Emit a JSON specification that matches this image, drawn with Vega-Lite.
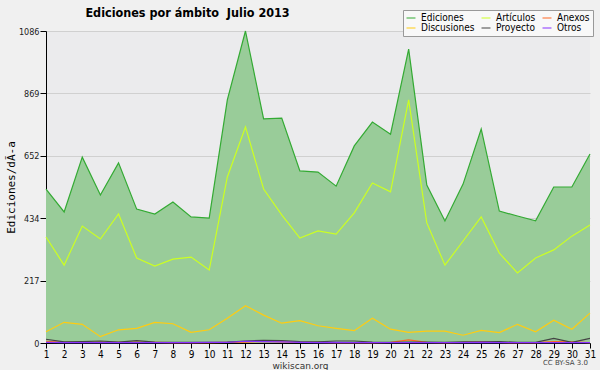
{
  "$schema": "https://vega.github.io/schema/vega-lite/v6.json",
  "autosize": "none",
  "width": 544,
  "height": 312,
  "padding": {"left": 46, "top": 31, "right": 10, "bottom": 27},
  "background": "#f0f0f0",
  "config": {
    "font": "DejaVu Sans",
    "view": {"fill": "#ebebed", "stroke": null}
  },
  "title": {
    "text": "Ediciones por ámbito\u00a0\u00a0Julio 2013",
    "anchor": "start",
    "dx": 80,
    "offset": -10,
    "fontSize": 12.5,
    "fontWeight": "bold",
    "color": "#000000",
    "font": "DejaVu Sans Condensed"
  },
  "data": {
    "values": [
      {"d": 1, "Ediciones": 536, "Artículos": 369, "Anexos": 6, "Discusiones": 39, "Proyecto": 13, "Otros": 2},
      {"d": 2, "Ediciones": 456, "Artículos": 271, "Anexos": 2, "Discusiones": 72, "Proyecto": 4, "Otros": 1},
      {"d": 3, "Ediciones": 647, "Artículos": 407, "Anexos": 2, "Discusiones": 65, "Proyecto": 5, "Otros": 1},
      {"d": 4, "Ediciones": 515, "Artículos": 362, "Anexos": 3, "Discusiones": 22, "Proyecto": 7, "Otros": 1},
      {"d": 5, "Ediciones": 627, "Artículos": 449, "Anexos": 2, "Discusiones": 46, "Proyecto": 3, "Otros": 1},
      {"d": 6, "Ediciones": 466, "Artículos": 296, "Anexos": 3, "Discusiones": 51, "Proyecto": 8, "Otros": 1},
      {"d": 7, "Ediciones": 449, "Artículos": 268, "Anexos": 2, "Discusiones": 72, "Proyecto": 3, "Otros": 1},
      {"d": 8, "Ediciones": 491, "Artículos": 292, "Anexos": 1, "Discusiones": 67, "Proyecto": 2, "Otros": 1},
      {"d": 9, "Ediciones": 439, "Artículos": 299, "Anexos": 1, "Discusiones": 37, "Proyecto": 2, "Otros": 1},
      {"d": 10, "Ediciones": 435, "Artículos": 254, "Anexos": 1, "Discusiones": 46, "Proyecto": 2, "Otros": 2},
      {"d": 11, "Ediciones": 846, "Artículos": 578, "Anexos": 2, "Discusiones": 86, "Proyecto": 3, "Otros": 2},
      {"d": 12, "Ediciones": 1086, "Artículos": 752, "Anexos": 3, "Discusiones": 130, "Proyecto": 7, "Otros": 6},
      {"d": 13, "Ediciones": 780, "Artículos": 536, "Anexos": 6, "Discusiones": 97, "Proyecto": 9, "Otros": 5},
      {"d": 14, "Ediciones": 783, "Artículos": 446, "Anexos": 4, "Discusiones": 69, "Proyecto": 8, "Otros": 4},
      {"d": 15, "Ediciones": 599, "Artículos": 365, "Anexos": 2, "Discusiones": 78, "Proyecto": 5, "Otros": 2},
      {"d": 16, "Ediciones": 595, "Artículos": 390, "Anexos": 2, "Discusiones": 60, "Proyecto": 4, "Otros": 1},
      {"d": 17, "Ediciones": 546, "Artículos": 379, "Anexos": 1, "Discusiones": 51, "Proyecto": 7, "Otros": 2},
      {"d": 18, "Ediciones": 686, "Artículos": 453, "Anexos": 1, "Discusiones": 43, "Proyecto": 7, "Otros": 1},
      {"d": 19, "Ediciones": 769, "Artículos": 557, "Anexos": 1, "Discusiones": 86, "Proyecto": 3, "Otros": 1},
      {"d": 20, "Ediciones": 727, "Artículos": 526, "Anexos": 2, "Discusiones": 48, "Proyecto": 2, "Otros": 1},
      {"d": 21, "Ediciones": 1023, "Artículos": 846, "Anexos": 11, "Discusiones": 37, "Proyecto": 3, "Otros": 1},
      {"d": 22, "Ediciones": 550, "Artículos": 418, "Anexos": 2, "Discusiones": 41, "Proyecto": 3, "Otros": 1},
      {"d": 23, "Ediciones": 425, "Artículos": 271, "Anexos": 1, "Discusiones": 41, "Proyecto": 2, "Otros": 1},
      {"d": 24, "Ediciones": 553, "Artículos": 355, "Anexos": 2, "Discusiones": 27, "Proyecto": 4, "Otros": 1},
      {"d": 25, "Ediciones": 745, "Artículos": 439, "Anexos": 5, "Discusiones": 44, "Proyecto": 4, "Otros": 2},
      {"d": 26, "Ediciones": 459, "Artículos": 313, "Anexos": 2, "Discusiones": 36, "Proyecto": 5, "Otros": 1},
      {"d": 27, "Ediciones": 442, "Artículos": 244, "Anexos": 1, "Discusiones": 65, "Proyecto": 2, "Otros": 1},
      {"d": 28, "Ediciones": 425, "Artículos": 296, "Anexos": 1, "Discusiones": 39, "Proyecto": 2, "Otros": 1},
      {"d": 29, "Ediciones": 543, "Artículos": 324, "Anexos": 5, "Discusiones": 79, "Proyecto": 16, "Otros": 1},
      {"d": 30, "Ediciones": 543, "Artículos": 372, "Anexos": 4, "Discusiones": 48, "Proyecto": 2, "Otros": 1},
      {"d": 31, "Ediciones": 658, "Artículos": 411, "Anexos": 1, "Discusiones": 104, "Proyecto": 16, "Otros": 1}
    ]
  },
  "transform": [
    {"fold": ["Ediciones", "Artículos", "Anexos", "Discusiones", "Proyecto", "Otros"], "as": ["serie", "valor"]}
  ],
  "encoding": {
    "x": {
      "field": "d",
      "type": "quantitative",
      "scale": {"domain": [1, 31], "nice": false, "zero": false},
      "axis": {
        "values": [1,2,3,4,5,6,7,8,9,10,11,12,13,14,15,16,17,18,19,20,21,22,23,24,25,26,27,28,29,30,31],
        "format": "d",
        "grid": false,
        "domainColor": "#000000",
        "tickColor": "#000000",
        "tickSize": 5,
        "labelFont": "DejaVu Sans Condensed",
        "labelFontSize": 10,
        "labelColor": "#000000",
        "labelPadding": 1,
        "labelFlush": false,
        "title": "wikiscan.org",
        "titleFontSize": 9,
        "titleFontWeight": "normal",
        "titleColor": "#333333",
        "titlePadding": 2,
        "titleX": 254
      }
    },
    "y": {
      "field": "valor",
      "type": "quantitative",
      "scale": {"domain": [0, 1086], "nice": false},
      "axis": {
        "values": [0, 217, 434, 652, 869, 1086],
        "format": "d",
        "grid": true,
        "gridColor": "#d0d0d0",
        "domainColor": "#000000",
        "tickColor": "#000000",
        "tickSize": 6,
        "labelFont": "DejaVu Sans Condensed",
        "labelFontSize": 9,
        "labelColor": "#222222",
        "labelPadding": 1,
        "title": "Ediciones/dÃ-a",
        "titleFont": "DejaVu Sans Mono",
        "titleFontSize": 11,
        "titleFontWeight": "normal",
        "titleColor": "#000000",
        "titlePadding": 2
      }
    }
  },
  "layer": [
    {
      "transform": [{"filter": "datum.serie === 'Ediciones'"}],
      "mark": {"type": "area", "color": "#99cc99", "opacity": 1},
      "encoding": {}
    },
    {
      "mark": {"type": "line", "strokeWidth": 1.2},
      "encoding": {
        "color": {
          "field": "serie",
          "type": "nominal",
          "sort": ["Ediciones", "Artículos", "Anexos", "Discusiones", "Proyecto", "Otros"],
          "scale": {
            "domain": ["Ediciones", "Artículos", "Anexos", "Discusiones", "Proyecto", "Otros"],
            "range": ["#33aa33", "#ccff22", "#ff6622", "#ffcc11", "#444444", "#8833ff"]
          },
          "legend": {
            "title": null,
            "orient": "none",
            "legendX": 357,
            "legendY": -21,
            "columns": 3,
            "direction": "horizontal",
            "symbolType": "stroke",
            "symbolSize": 80,
            "symbolStrokeWidth": 1,
            "labelFont": "DejaVu Sans Condensed",
            "labelFontSize": 10,
            "labelColor": "#000000",
            "labelOffset": 5,
            "rowPadding": 0,
            "columnPadding": 4,
            "fillColor": "#f8f8f8",
            "strokeColor": "#999999",
            "padding": 3
          }
        }
      }
    },
    {
      "transform": [{"filter": "datum.serie === 'Ediciones' && datum.d === 31"}],
      "mark": {"type": "text", "text": "CC BY-SA 3.0", "fontSize": 7, "color": "#444444", "align": "right", "dy": 20, "dx": -2},
      "encoding": {"y": {"datum": 0}}
    }
  ]
}
